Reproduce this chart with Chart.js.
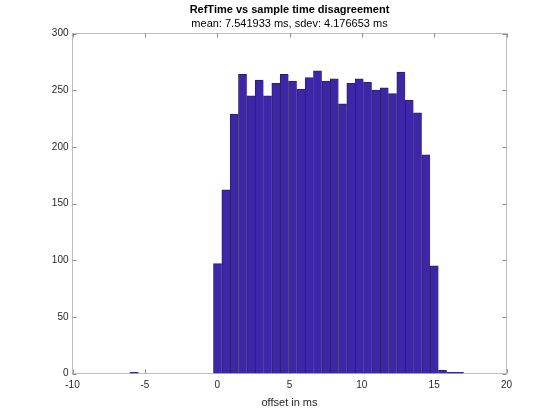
<!DOCTYPE html>
<html>
<head>
<meta charset="utf-8">
<script src="https://cdn.jsdelivr.net/npm/chart.js@4.4.1/dist/chart.umd.min.js"></script>
<style>
html, body { margin: 0; padding: 0; background: #fff; }
</style>
</head>
<body>
<canvas id="hist" width="560" height="420"></canvas>
<script>
// histogram bins (centre of each bin, ms) and counts
var binCenters = [-5.727, -5.151, -4.575, -3.999, -3.423, -2.847, -2.271, -1.695, -1.119, -0.543,
                  0.033, 0.609, 1.185, 1.761, 2.337, 2.913, 3.489, 4.065, 4.641, 5.217,
                  5.793, 6.369, 6.945, 7.521, 8.097, 8.673, 9.249, 9.825, 10.401, 10.977,
                  11.553, 12.129, 12.705, 13.281, 13.857, 14.433, 15.009, 15.585, 16.161, 16.737];
var counts = [1, 0, 0, 0, 0, 0, 0, 0, 0, 0,
              97, 162, 229, 264, 245, 259, 245, 256, 264, 258,
              251, 261, 267, 258, 260, 238, 256, 260, 257, 250,
              252, 247, 266, 241, 230, 193, 95, 3, 1, 1];
var xTicks = [-10, -5, 0, 5, 10, 15, 20];
var yTicks = [0, 50, 100, 150, 200, 250, 300];

var fontFam = "'Liberation Sans', Arial, Helvetica, sans-serif";

// matlab style box with inward ticks on all four sides
var matlabAxes = {
  id: 'matlabAxes',
  beforeDatasetsDraw: function (chart) {
    var ctx = chart.ctx, a = chart.chartArea;
    var xs = chart.scales.x, ys = chart.scales.y;
    ctx.save();
    ctx.lineWidth = 1;
    ctx.strokeStyle = '#bdbdbd';
    ctx.strokeRect(a.left, a.top, a.right - a.left, a.bottom - a.top);
    ctx.strokeStyle = '#8c8c8c';
    ctx.beginPath();
    xs.ticks.forEach(function (t) {
      var px = Math.round(xs.getPixelForValue(t.value)) + 0.5;
      ctx.moveTo(px, a.bottom); ctx.lineTo(px, a.bottom - 4);
      ctx.moveTo(px, a.top); ctx.lineTo(px, a.top + 4);
    });
    ys.ticks.forEach(function (t) {
      var py = Math.round(ys.getPixelForValue(t.value)) + 0.5;
      ctx.moveTo(a.left, py); ctx.lineTo(a.left + 4, py);
      ctx.moveTo(a.right, py); ctx.lineTo(a.right - 4, py);
    });
    ctx.stroke();
    ctx.restore();
  }
};

var points = binCenters.map(function (c, i) { return { x: c, y: counts[i] }; });
var last = points.length - 1;

new Chart(document.getElementById('hist').getContext('2d'), {
  type: 'bar',
  data: {
    datasets: [{
      data: points,
      backgroundColor: '#3e26a8',
      borderColor: '#2a2262',
      borderWidth: function (c) {
        return { top: 1, left: 1, right: c.dataIndex === last ? 1 : 0, bottom: 0 };
      },
      borderSkipped: false,
      barPercentage: 1,
      categoryPercentage: 1
    }]
  },
  options: {
    responsive: false,
    animation: false,
    devicePixelRatio: 1,
    layout: { padding: { left: 0, right: 53.5, top: 0, bottom: 0 } },
    plugins: {
      legend: { display: false },
      tooltip: { enabled: false },
      title: {
        display: true,
        text: 'RefTime vs sample time disagreement',
        fullSize: false,
        color: '#000',
        font: { family: fontFam, size: 11, weight: 'bold' },
        padding: { top: 3.5, bottom: 1 }
      },
      subtitle: {
        display: true,
        text: 'mean: 7.541933 ms, sdev: 4.176653 ms',
        fullSize: false,
        color: '#000',
        font: { family: fontFam, size: 11 },
        padding: { top: 0, bottom: 2.6 }
      }
    },
    scales: {
      x: {
        type: 'linear',
        min: -10,
        max: 20,
        offset: false,
        afterBuildTicks: function (s) { s.ticks = xTicks.map(function (v) { return { value: v }; }); },
        afterFit: function (s) { s.height = 46.5; },
        grid: { display: false, drawTicks: false },
        border: { display: false },
        ticks: { color: '#262626', font: { family: fontFam, size: 10 }, padding: 6, maxRotation: 0 },
        title: {
          display: true,
          text: 'offset in ms',
          color: '#262626',
          font: { family: fontFam, size: 11 },
          padding: { top: 0, bottom: 10 }
        }
      },
      y: {
        min: 0,
        max: 300,
        afterBuildTicks: function (s) { s.ticks = yTicks.map(function (v) { return { value: v }; }); },
        afterFit: function (s) { s.width = 72.5; },
        grid: { display: false, drawTicks: false },
        border: { display: false },
        ticks: { color: '#262626', font: { family: fontFam, size: 10 }, padding: 4 }
      }
    }
  },
  plugins: [matlabAxes]
});
</script>
</body>
</html>
